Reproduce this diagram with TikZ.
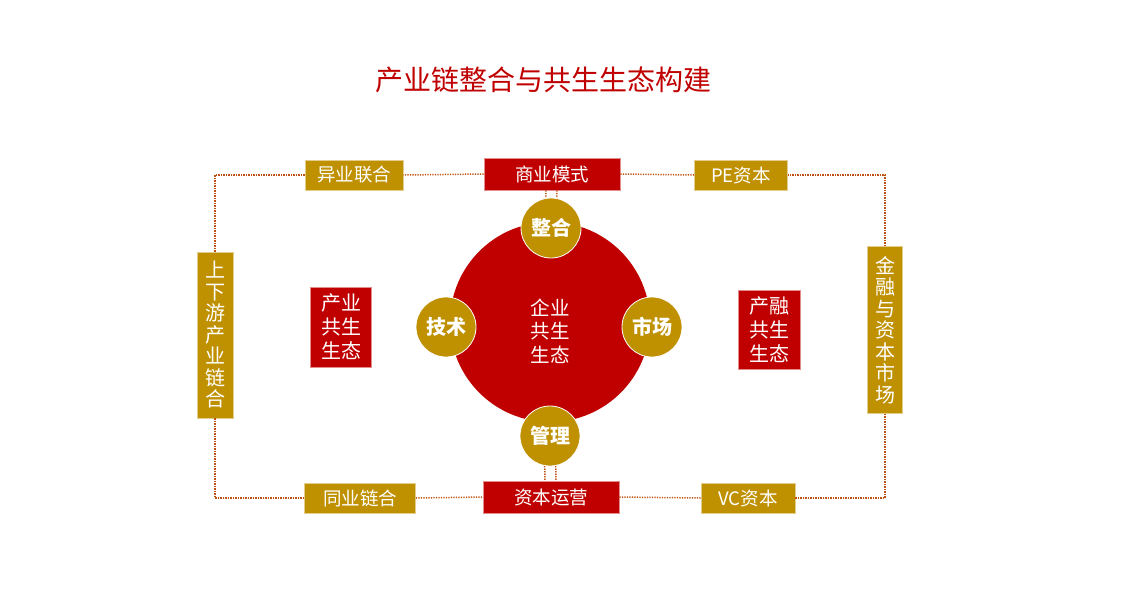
\documentclass[tikz,border=0pt]{standalone}
\usepackage{fontspec}
\setmainfont{Noto Sans CJK SC}
\usetikzlibrary{positioning}
\definecolor{chRed}{HTML}{C00000}
\definecolor{chGold}{HTML}{BF9000}
\definecolor{chDot}{HTML}{C0500E}

\begin{document}
\begin{tikzpicture}[x=1pt, y=-1pt,
  goldbox/.style={fill=chGold, draw=chGold!45, line width=0.6pt, text=white, inner sep=0pt,
    font=\fontsize{18.5}{22}\selectfont, align=center},
  redbox/.style={goldbox, fill=chRed, draw=chRed!45},
  hub/.style={circle, fill=chGold, draw=white, line width=0.8pt, minimum size=60pt, inner sep=0pt,
    text=white, font=\bfseries\fontsize{20}{22}\selectfont},
  dotlink/.style={chDot, line width=1.5pt, dash pattern=on 1.4pt off 1.1pt}]
\useasboundingbox (0,0) rectangle (1140,600);

% title
\node[text=chRed, font=\fontsize{28}{30}\selectfont] (title) at (543,80) {产业链整合与共生生态构建};

% outer ring of boxes
\node[goldbox, minimum width=98pt, minimum height=30pt] (yilian) at (354,175) {异业联合};
\node[redbox, minimum width=136pt, minimum height=32pt] (shangye) at (552,174) {商业模式};
\node[goldbox, minimum width=93pt, minimum height=30pt] (pe) at (741,175) {PE资本};
\node[goldbox, minimum width=111pt, minimum height=30pt] (tongye) at (360,498) {同业链合};
\node[redbox, minimum width=136pt, minimum height=32pt] (ziben) at (551,497) {资本运营};
\node[goldbox, minimum width=94pt, minimum height=30pt] (vc) at (748,498) {VC资本};
\node[goldbox, minimum width=36pt, minimum height=166pt, font=\fontsize{20}{21.5}\selectfont] (shangxia) at (215,335) {上\\下\\游\\产\\业\\链\\合};
\node[goldbox, minimum width=35pt, minimum height=167pt, font=\fontsize{20}{21.5}\selectfont] (jinrong) at (885,330) {金\\融\\与\\资\\本\\市\\场};

% side boxes
\node[redbox, minimum width=61pt, minimum height=80pt, font=\fontsize{20}{24}\selectfont] (chanye) at (341,327) {产业\\共生\\生态};
\node[redbox, minimum width=62pt, minimum height=79pt, font=\fontsize{20}{24}\selectfont] (chanrong) at (769,330) {产融\\共生\\生态};

% dotted frame
\coordinate (tl) at (215,175);
\coordinate (tr) at (885,175);
\coordinate (br) at (885,498);
\coordinate (bl) at (215,498);
\draw[dotlink] (yilian.west) -- (tl) -- (shangxia.north);
\draw[dotlink] (shangxia.south) -- (bl) -- (tongye.west);
\draw[dotlink] (tongye.east) -- (ziben.west);
\draw[dotlink] (ziben.east) -- (vc.west);
\draw[dotlink] (vc.east) -- (br) -- (jinrong.south);
\draw[dotlink] (jinrong.north) -- (tr) -- (pe.east);
\draw[dotlink] (pe.west) -- (shangye.east);
\draw[dotlink] (shangye.west) -- (yilian.east);

% core
\node[circle, fill=chRed, minimum size=200pt, inner sep=0pt] (core) at (550,322) {};
\node[text=white, align=center, font=\fontsize{19.5}{23.5}\selectfont] (coretext) at (550,331) {企业\\共生\\生态};

\coordinate (zhenghe-c) at (551,228);
\coordinate (guanli-c) at (550,436);
\foreach \dx in {-6,5}{
  \draw[dotlink] ([xshift=\dx pt]shangye.south) -- ([xshift=\dx pt]zhenghe-c);
  \draw[dotlink] ([xshift=\dx pt]guanli-c) -- ([xshift=\dx pt]ziben.north);
}

\node[hub] (zhenghe) at (zhenghe-c) {整合};
\node[hub] (guanli) at (guanli-c) {管理};
\node[hub] (jishu) at (446,327) {技术};
\node[hub] (shichang) at (652,327) {市场};
\end{tikzpicture}
\end{document}
